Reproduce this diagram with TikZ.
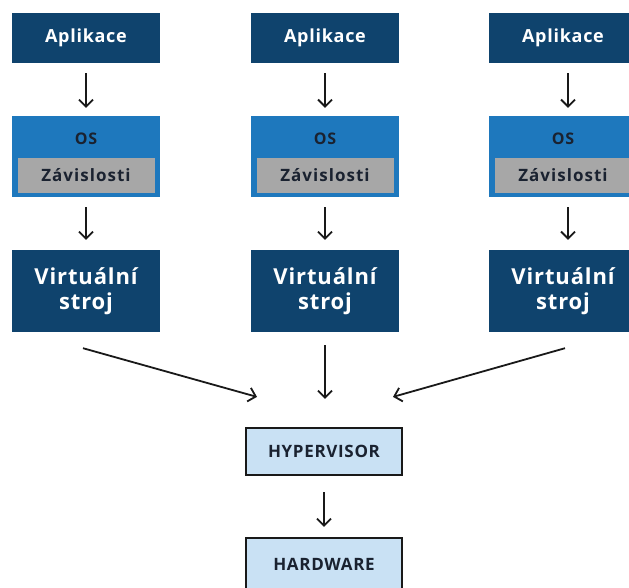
\documentclass[tikz,border=0pt]{standalone}
\usepackage{fontspec}
\setmainfont{Open Sans}
\newfontfamily\boxfont{Open Sans}[LetterSpace=4]
\newfontfamily\depfont{Open Sans}[LetterSpace=6]
\usetikzlibrary{positioning,arrows.meta}
\definecolor{vmnavy}{HTML}{0F436D}
\definecolor{osblue}{HTML}{1E78BD}
\definecolor{depgray}{HTML}{A7A7A7}
\definecolor{hwblue}{HTML}{C9E1F4}
\definecolor{darktext}{HTML}{1A2230}

\begin{document}
\begin{tikzpicture}[x=1pt, y=1pt,
										darkbox/.style={fill=vmnavy, text=white, minimum width=148pt, inner sep=0pt,
											font=\boxfont\bfseries\fontsize{18}{21}\selectfont},
										app/.style={darkbox, minimum height=50pt},
										vm/.style={darkbox, minimum height=82pt, align=center,
											font=\boxfont\bfseries\fontsize{22}{25}\selectfont},
										osbox/.style={fill=osblue, minimum width=148pt, minimum height=81pt, inner sep=0pt},
										oslabel/.style={text=darktext, inner sep=0pt, font=\boxfont\bfseries\fontsize{16}{19}\selectfont},
										dep/.style={fill=depgray, text=darktext, minimum width=137pt, minimum height=35pt, inner sep=0pt,
											font=\depfont\bfseries\fontsize{17}{20}\selectfont},
										layer/.style={fill=hwblue, draw=black!90, line width=2.2pt, text=darktext,
											minimum width=156pt, inner sep=0pt, font=\boxfont\bfseries\fontsize{17}{20}\selectfont},
										arr/.style={-{Straight Barb[length=7pt, width=14pt]}, line width=1.8pt, black!90}]
	\useasboundingbox (0,0) rectangle (629,-588);
	\node [app] (app1) at (86,-38) {Aplikace};
	\node [app] (app2) at (325,-38) {Aplikace};
	\node [app] (app3) at (563,-38) {Aplikace};
	\node [osbox] (os1) at (86,-156.5) {};
	\node [osbox] (os2) at (325,-156.5) {};
	\node [osbox] (os3) at (563,-156.5) {};
	\node [oslabel] (oslab1) at ([yshift=-23pt]os1.north) {OS};
	\node [oslabel] (oslab2) at ([yshift=-23pt]os2.north) {OS};
	\node [oslabel] (oslab3) at ([yshift=-23pt]os3.north) {OS};
	\node [dep, above=4pt of os1.south] (dep1) {Závislosti};
	\node [dep, above=4pt of os2.south] (dep2) {Závislosti};
	\node [dep, above=4pt of os3.south] (dep3) {Závislosti};
	\node [vm] (vm1) at (86,-291) {Virtuální\\stroj};
	\node [vm] (vm2) at (325,-291) {Virtuální\\stroj};
	\node [vm] (vm3) at (563,-291) {Virtuální\\stroj};
	\node [layer, minimum height=47pt] (hyp) at (324,-451.5) {HYPERVISOR};
	\node [layer, minimum height=52pt] (hw) at (324,-564) {HARDWARE};
	\draw [arr, shorten <=10pt, shorten >=8pt] (app1) -- (os1);
	\draw [arr, shorten <=10pt, shorten >=8pt] (app2) -- (os2);
	\draw [arr, shorten <=10pt, shorten >=8pt] ([xshift=5pt]app3.south) -- ([xshift=5pt]os3.north);
	\draw [arr, shorten <=10pt, shorten >=10pt] (os1) -- (vm1);
	\draw [arr, shorten <=10pt, shorten >=10pt] (os2) -- (vm2);
	\draw [arr, shorten <=10pt, shorten >=10pt] ([xshift=5pt]os3.south) -- ([xshift=5pt]vm3.north);
	\draw [arr] ([xshift=-3pt, yshift=-16pt]vm1.south) -- ([xshift=-67pt, yshift=30pt]hyp.north);
	\draw [arr, shorten <=13pt, shorten >=28pt] (vm2.south) -- (vm2.south |- hyp.north);
	\draw [arr] ([xshift=2pt, yshift=-16pt]vm3.south) -- ([xshift=69pt, yshift=30pt]hyp.north);
	\draw [arr, shorten <=16pt, shorten >=10pt] (hyp) -- (hw);
\end{tikzpicture}
\end{document}
